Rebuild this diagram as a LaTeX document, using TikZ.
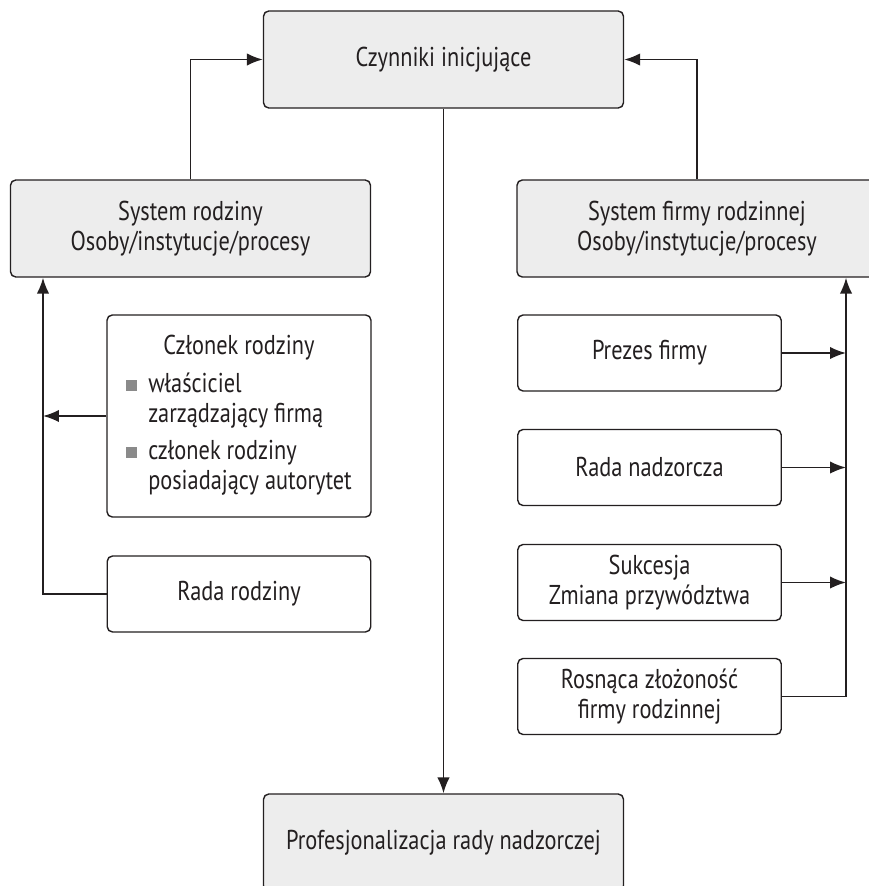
\documentclass[tikz,border=0pt]{standalone}
\usepackage{fontspec}
\setmainfont[FakeStretch=0.82]{PT Sans}
\usepackage{tikz}
\usetikzlibrary{arrows.meta}
\usetikzlibrary{calc,shapes,positioning}
\definecolor{boxgray}{HTML}{EDEDED}
\definecolor{linegray}{HTML}{231F20}
\definecolor{bulletgray}{HTML}{8A8A8A}
\newcommand{\bul}{\textcolor{bulletgray}{\rule[0.15ex]{0.22cm}{0.22cm}}}

\begin{document}
\begin{tikzpicture}[
    font=\fontsize{15.5}{17}\selectfont, text=linegray,
    box/.style={draw=linegray, line width=0.8pt, rounded corners=3pt, align=center, inner sep=2pt},
    bigbox/.style={box, fill=boxgray, minimum width=7.2cm, minimum height=1.94cm},
    smallbox/.style={box, fill=white, minimum width=5.27cm, minimum height=1.52cm},
    link/.style={draw=linegray, line width=1pt},
    >={Latex[length=9pt,width=7pt]}
  ]
  \clip (0,0) rectangle (17.38,-17.72);

  % top and bottom
  \node[bigbox] (czynniki) at (8.87,-1.19) {Czynniki inicjujące};
  \node[bigbox] (profes) at (8.87,-16.85) {Profesjonalizacja rady nadzorczej};

  % the two systems
  \node[bigbox] (rodzina) at (3.81,-4.57) {System rodziny\\Osoby/instytucje/procesy};
  \node[bigbox] (firma) at (13.94,-4.57) {System firmy rodzinnej\\Osoby/instytucje/procesy};

  % left column
  \node[box, fill=white, minimum width=5.28cm, minimum height=4.04cm] (czlonek) at (4.78,-8.32) {%
    \begin{tabular}{@{}l@{\hspace{0.22cm}}l@{}}
      \multicolumn{2}{c}{Członek rodziny}\\[5pt]
      \bul & właściciel\\
           & zarządzający firmą\\[4pt]
      \bul & członek rodziny\\
           & posiadający autorytet
    \end{tabular}};
  \node[smallbox] (radarodz) at (4.78,-11.88) {Rada rodziny};

  % right column
  \node[smallbox] (prezes) at (12.99,-7.06) {Prezes firmy};
  \node[smallbox] (radanadz) at (12.99,-9.35) {Rada nadzorcza};
  \node[smallbox] (sukcesja) at (12.99,-11.65) {Sukcesja\\Zmiana przywództwa};
  \node[smallbox] (zlozonosc) at (12.99,-13.93) {Rosnąca złożoność\\firmy rodzinnej};

  \coordinate (busL) at (0.86,-11.88);
  \coordinate (busR) at (16.92,-13.93);

  % connectors
  \draw[link,->] (rodzina.north) |- (czynniki.west);
  \draw[link,->] (firma.north) |- (czynniki.east);
  \draw[link,->] (czynniki.south) -- (profes.north);

  \draw[link,->] (radarodz.west) -- (busL) -- (busL |- rodzina.south);
  \draw[link,->] (czlonek.west) -- (czlonek.west -| busL);

  \draw[link,->] (zlozonosc.east) -- (busR) -- (busR |- firma.south);
  \foreach \n in {prezes,radanadz,sukcesja}
    \draw[link,->] (\n.east) -- (\n.east -| busR);
\end{tikzpicture}
\end{document}
